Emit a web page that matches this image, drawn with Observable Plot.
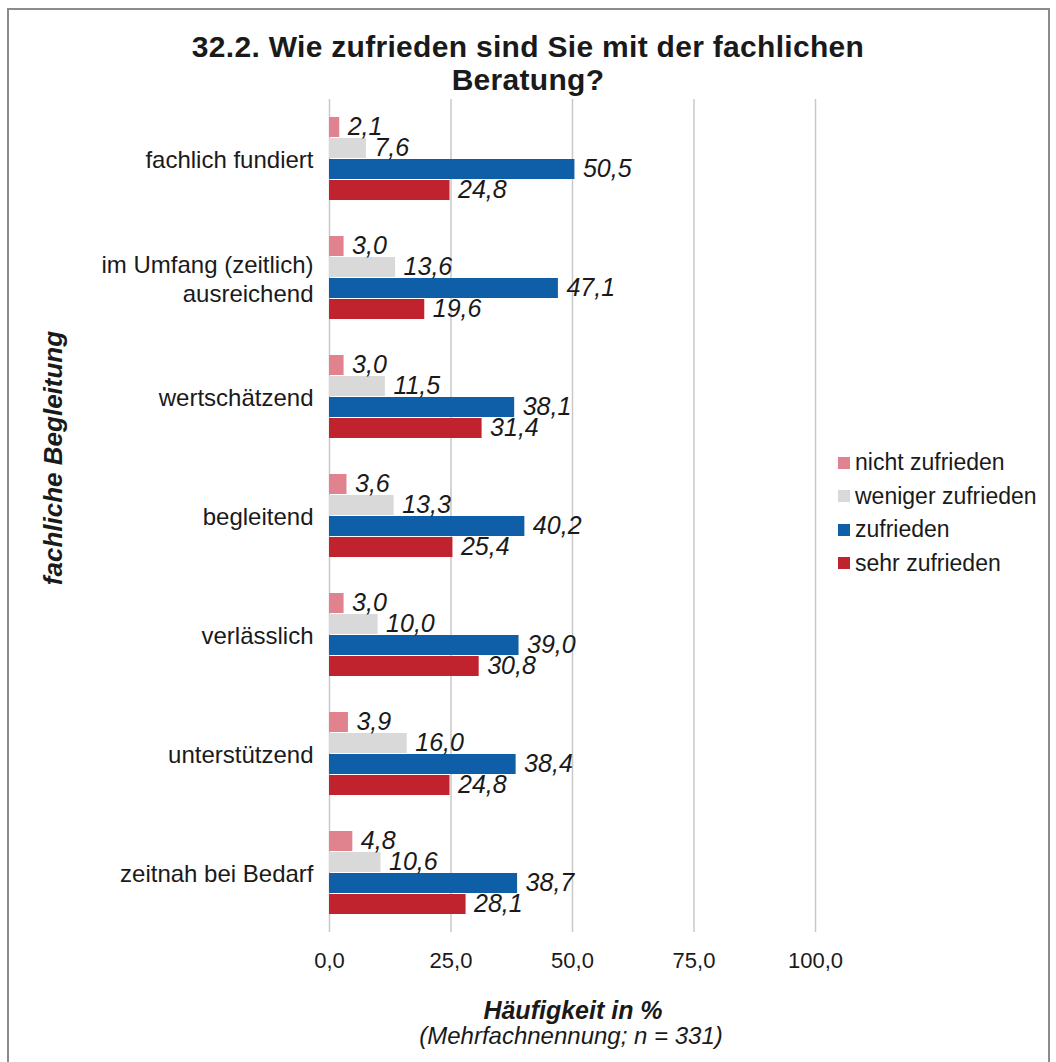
<!DOCTYPE html>
<html><head><meta charset="utf-8">
<script src="https://cdn.jsdelivr.net/npm/d3@7"></script>
<script src="https://cdn.jsdelivr.net/npm/@observablehq/plot@0.6"></script>
<style>
body{margin:0;background:#fff;font-family:"Liberation Sans",Arial,sans-serif;color:#1a1a1a}
#wrap{position:relative;width:1056px;height:1062px;overflow:hidden;background:#fff}
#frame{position:absolute;left:7px;top:8px;width:1043px;height:1080px;border:2px solid #8c8c8c;box-sizing:border-box;pointer-events:none}
#chart{position:absolute;left:0;top:0}
#title{position:absolute;left:0;width:1056px;top:30px;text-align:center;font-weight:bold;font-size:30px;line-height:33px;letter-spacing:0.3px}
#ytitle{position:absolute;left:53px;top:458px;transform:translate(-50%,-50%) rotate(-90deg);white-space:nowrap;font-weight:bold;font-style:italic;font-size:26px}
#xtitle{position:absolute;left:573px;top:1010px;transform:translate(-50%,-50%);white-space:nowrap;font-weight:bold;font-style:italic;font-size:25px}
#xsub{position:absolute;left:571px;top:1036px;transform:translate(-50%,-50%);white-space:nowrap;font-style:italic;font-size:24px}
#legend{position:absolute;left:838px;top:446px;font-size:23px}
#legend .row{display:flex;align-items:center;height:33.5px;white-space:nowrap}
#legend .sw{width:12px;height:12px;margin-right:5px}
</style></head>
<body>
<div id="wrap">
  <div id="chart"></div>
  <div id="title">32.2. Wie zufrieden sind Sie mit der fachlichen<br>Beratung?</div>
  <div id="ytitle">fachliche Begleitung</div>
  <div id="xtitle">Häufigkeit in %</div>
  <div id="xsub">(Mehrfachnennung; n = 331)</div>
  <div id="legend"></div>
  <div id="frame"></div>
</div>
<script>
const categories = ["fachlich fundiert","im Umfang (zeitlich) ausreichend","wertschätzend","begleitend","verlässlich","unterstützend","zeitnah bei Bedarf"];
const series = ["nicht zufrieden","weniger zufrieden","zufrieden","sehr zufrieden"];
const nichtZufrieden = [2.1,3.0,3.0,3.6,3.0,3.9,4.8];
const wenigerZufrieden = [7.6,13.6,11.5,13.3,10.0,16.0,10.6];
const zufrieden = [50.5,47.1,38.1,40.2,39.0,38.4,38.7];
const sehrZufrieden = [24.8,19.6,31.4,25.4,30.8,24.8,28.1];
const xTicks = [0,25,50,75,100];
const colors = ["#E0838F","#D9D9D9","#0F5EA8","#C0232D"];

const seriesValues = [nichtZufrieden, wenigerZufrieden, zufrieden, sehrZufrieden];
const data = [];
categories.forEach((c,i) => series.forEach((s,j) => data.push({category:c, series:s, value:seriesValues[j][i]})));
const fmt = v => v.toFixed(1).replace(".", ",");
const catFormat = d => d === "im Umfang (zeitlich) ausreichend" ? "im Umfang (zeitlich)\nausreichend" : d;

const plot = Plot.plot({
  width:1056, height:1062,
  marginLeft:329, marginRight:241, marginTop:97, marginBottom:129,
  style:{fontFamily:"'Liberation Sans', Arial, sans-serif", fontSize:"22px", color:"#1a1a1a", background:"transparent"},
  x:{domain:[0,100], ticks:xTicks, tickFormat:fmt, tickSize:0, tickPadding:20, label:null},
  y:{domain:series, axis:null, paddingInner:0.06, paddingOuter:0.75},
  fy:{domain:categories, padding:0, axis:null, label:null},
  color:{domain:series, range:colors},
  marks:[
    Plot.ruleX(xTicks, {stroke:"#c8c8c8", strokeWidth:1.5}),
    Plot.barX(data, {x:"value", y:"series", fy:"category", fill:"series"}),
    Plot.text(data, {x:"value", y:"series", fy:"category", text:d => fmt(d.value), textAnchor:"start", dx:8, dy:-1, fontStyle:"italic", fontSize:25, fill:"#1a1a1a"}),
    Plot.axisFy({anchor:"left", tickSize:0, tickPadding:16, fontSize:24, lineHeight:1.2, label:null, tickFormat:catFormat})
  ]
});
document.getElementById("chart").appendChild(plot);

const legend = document.getElementById("legend");
series.forEach((s,j) => {
  const row = document.createElement("div"); row.className = "row";
  const sw = document.createElement("div"); sw.className = "sw"; sw.style.background = colors[j];
  const t = document.createElement("span"); t.textContent = s;
  row.appendChild(sw); row.appendChild(t); legend.appendChild(row);
});
</script>
</body></html>
